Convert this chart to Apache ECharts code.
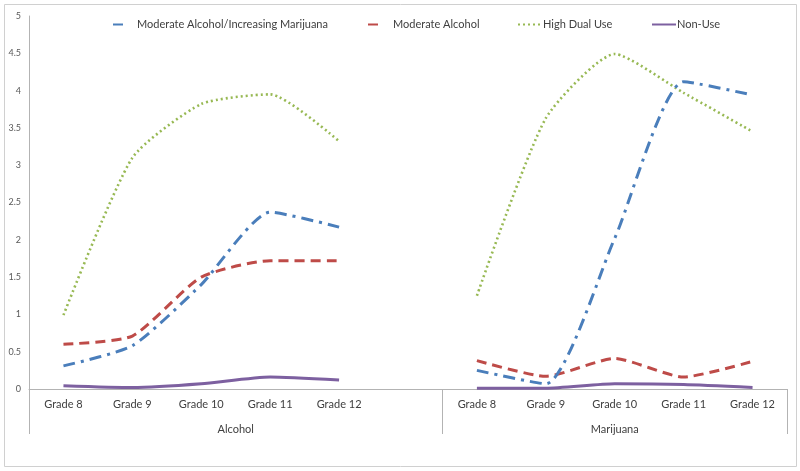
<!DOCTYPE html>
<html>
<head>
<meta charset="utf-8">
<script src="https://cdn.jsdelivr.net/npm/echarts@6/dist/echarts.min.js"></script>
<style>
html,body{margin:0;padding:0;background:#fff;}
#chart{width:800px;height:471px;}
</style>
</head>
<body>
<div id="chart"></div>
<script>
// ---- data ----
const groups = ['Alcohol', 'Marijuana'];
const grades = ['Grade 8', 'Grade 9', 'Grade 10', 'Grade 11', 'Grade 12'];
const seriesNames = ['Moderate Alcohol/Increasing Marijuana', 'Moderate Alcohol', 'High Dual Use', 'Non-Use'];

const modAlcIncMar_Alcohol   = [0.31, 0.58, 1.40, 2.37, 2.17];
const modAlcIncMar_Marijuana = [0.25, 0.07, 2.02, 4.12, 3.94];
const modAlc_Alcohol         = [0.60, 0.71, 1.50, 1.72, 1.72];
const modAlc_Marijuana       = [0.38, 0.17, 0.41, 0.16, 0.37];
const highDual_Alcohol       = [0.99, 3.10, 3.82, 3.95, 3.32];
const highDual_Marijuana     = [1.25, 3.63, 4.49, 3.97, 3.45];
const nonUse_Alcohol         = [0.045, 0.02, 0.07, 0.16, 0.12];
const nonUse_Marijuana       = [0.01, 0.01, 0.07, 0.06, 0.02];

const yTicks = ['0', '0.5', '1', '1.5', '2', '2.5', '3', '3.5', '4', '4.5', '5'];

// ---- build ----
const categories = [...grades, '', ...grades];
const join = (a, m) => [...a, null, ...m];
const values = [
  join(modAlcIncMar_Alcohol, modAlcIncMar_Marijuana),
  join(modAlc_Alcohol, modAlc_Marijuana),
  join(highDual_Alcohol, highDual_Marijuana),
  join(nonUse_Alcohol, nonUse_Marijuana)
];
const colors = ['#4A7EBB', '#BE4B48', '#98B954', '#7D60A0'];
const dashes = [[12, 6, 3, 6], [10, 6], [2, 3], 'solid'];
const widths = [3, 3, 2.6, 3];

const FONT = 'Lato';
const axisGray = '#B3B3B3';

const chart = echarts.init(document.getElementById('chart'), null, {renderer: 'canvas'});

const legendDefs = [
  {left: 112, w: 10, pad: 9},
  {left: 367, w: 13, pad: 7},
  {left: 517, w: 23, pad: -3},
  {left: 651, w: 24, pad: -4}
];

const option = {
  animation: false,
  backgroundColor: '#fff',
  textStyle: {fontFamily: FONT},
  graphic: [{
    type: 'rect', shape: {x: 4.5, y: 4.5, width: 792, height: 462},
    style: {fill: 'none', stroke: '#D0D0D0', lineWidth: 1}, silent: true
  }],
  legend: legendDefs.map((d, i) => ({
    data: [seriesNames[i]],
    left: d.left, top: 19,
    padding: 0,
    itemWidth: d.w, itemHeight: 10,
    selectedMode: false,
    itemStyle: {opacity: 0},
    textStyle: {fontFamily: FONT, fontSize: 11, color: '#404040', padding: [0, 0, 0, d.pad]}
  })),
  grid: {left: 29, right: 13, top: 16, bottom: 82, containLabel: false},
  xAxis: [{
    type: 'category',
    data: categories,
    boundaryGap: true,
    axisLine: {show: true, lineStyle: {color: axisGray, width: 1}},
    axisTick: {show: false},
    axisLabel: {interval: 0, margin: 10, fontFamily: FONT, fontSize: 11, color: '#404040'},
    splitLine: {show: false}
  }, {
    type: 'value',
    position: 'bottom',
    min: 0, max: 11,
    axisLine: {show: false},
    axisTick: {show: true, customValues: [0, 6, 11], length: 45, inside: false, lineStyle: {color: axisGray, width: 1}},
    axisLabel: {
      customValues: [3, 8.5], margin: 35, fontFamily: FONT, fontSize: 11, color: '#404040',
      formatter: v => (v === 3 ? groups[0] : groups[1])
    },
    splitLine: {show: false}
  }],
  yAxis: {
    type: 'value',
    min: 0, max: 5, interval: 0.5,
    axisLine: {show: true, lineStyle: {color: axisGray, width: 1}},
    axisTick: {show: false},
    splitLine: {show: false},
    axisLabel: {margin: 8, fontFamily: FONT, fontSize: 9, color: '#595959',
      formatter: v => yTicks[Math.round(v * 2)]}
  },
  series: values.map((vals, i) => ({
    name: seriesNames[i],
    type: 'line',
    xAxisIndex: 0,
    data: vals,
    smooth: 0.2,
    symbol: 'none',
    showSymbol: false,
    connectNulls: false,
    itemStyle: {color: colors[i]},
    lineStyle: {color: colors[i], width: widths[i], type: dashes[i], cap: 'butt'},
    z: 2 + (3 - i)
  }))
};
chart.setOption(option);
</script>
</body>
</html>
